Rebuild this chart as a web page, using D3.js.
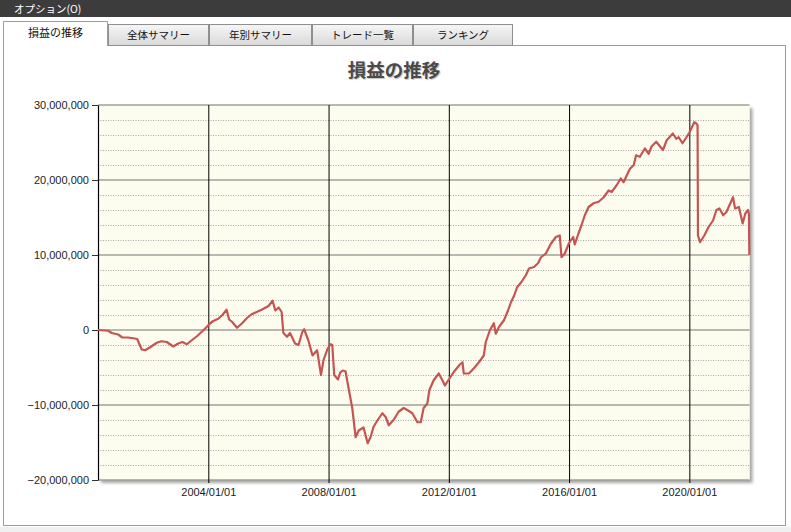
<!DOCTYPE html>
<html>
<head>
<meta charset="utf-8">
<script src="https://cdn.jsdelivr.net/npm/d3@7"></script>
<style>
html,body{margin:0;padding:0;background:#fff;}
svg{display:block;}
</style>
</head>
<body>
<svg id="chart" width="791" height="532"></svg>
<script>
// ---------- data ----------
const menuLabel = "オプション(O)";
const tabLabels = ["損益の推移", "全体サマリー", "年別サマリー", "トレード一覧", "ランキング"];
const chartTitle = "損益の推移";

const dates = [
"2000-05-01","2000-09-01","2000-10-15","2001-01-01","2001-02-20","2001-05-01","2001-07-01","2001-08-20",
"2001-10-15","2001-11-25","2002-01-25","2002-04-15","2002-06-10","2002-08-15","2002-11-01","2003-01-01",
"2003-02-20","2003-04-15","2003-06-10","2003-08-20","2003-11-15","2004-01-25","2004-03-01","2004-05-01",
"2004-06-20","2004-08-10","2004-09-10","2004-10-15","2004-12-15","2005-02-15","2005-04-15","2005-06-10",
"2005-08-10","2005-10-10","2006-01-01","2006-02-20","2006-03-25","2006-05-05","2006-06-10","2006-07-01",
"2006-08-15","2006-09-20","2006-11-20","2007-01-01","2007-02-15","2007-03-10","2007-05-01","2007-06-20",
"2007-08-15","2007-10-01","2007-11-01","2007-12-20","2008-01-25","2008-02-15","2008-03-10","2008-04-25",
"2008-05-20","2008-06-20","2008-07-25","2008-09-01","2008-10-15","2008-11-25","2009-01-01","2009-03-01",
"2009-04-20","2009-05-25","2009-07-01","2009-08-20","2009-10-15","2009-11-25","2010-01-01","2010-03-01",
"2010-05-01","2010-07-01","2010-08-20","2010-10-15","2010-12-15","2011-01-25","2011-03-01","2011-04-15",
"2011-05-10","2011-07-01","2011-09-01","2011-10-15","2011-11-15","2012-01-01","2012-03-01","2012-05-15",
"2012-06-15","2012-07-01","2012-09-01","2012-11-01","2013-01-01","2013-03-01","2013-03-25","2013-05-15",
"2013-07-01","2013-07-25","2013-09-01","2013-11-01","2013-12-20","2014-01-25","2014-03-05","2014-04-10",
"2014-06-01","2014-07-25","2014-09-01","2014-11-01","2014-12-20","2015-01-25","2015-03-25","2015-05-25",
"2015-07-25","2015-09-10","2015-10-01","2015-11-10","2016-01-01","2016-02-20","2016-03-10","2016-04-25",
"2016-06-01","2016-07-10","2016-08-25","2016-10-25","2016-12-25","2017-02-25","2017-04-25","2017-06-01",
"2017-08-01","2017-09-20","2017-10-25","2017-12-01","2018-01-10","2018-02-25","2018-03-25","2018-05-10",
"2018-07-10","2018-08-25","2018-10-01","2018-11-25","2019-01-01","2019-02-15","2019-04-01","2019-06-15",
"2019-07-25","2019-08-25","2019-10-10","2019-11-15","2020-01-01","2020-03-01","2020-03-20","2020-04-10",
"2020-04-15","2020-05-10","2020-07-01","2020-08-20","2020-10-15","2020-11-25","2021-01-01","2021-02-15",
"2021-03-25","2021-05-01","2021-06-15","2021-07-10","2021-08-25","2021-10-10","2021-11-10","2021-12-15",
"2021-12-25","2021-12-30"
];

const profit = [
0,-100000,-400000,-600000,-1000000,-1000000,-1100000,-1200000,
-2600000,-2700000,-2300000,-1700000,-1500000,-1600000,-2200000,-1800000,
-1600000,-1900000,-1400000,-800000,100000,900000,1200000,1500000,
2000000,2700000,1400000,1100000,300000,900000,1600000,2100000,
2400000,2700000,3200000,3900000,2600000,3000000,2400000,-400000,
-900000,-400000,-1800000,-2000000,-300000,100000,-1400000,-3400000,
-2700000,-6000000,-4000000,-2500000,-1900000,-2000000,-6000000,-6600000,
-5700000,-5400000,-5500000,-7800000,-10400000,-14300000,-13400000,-13000000,
-15100000,-14300000,-12900000,-12000000,-11100000,-11600000,-12700000,-12000000,
-10900000,-10400000,-10700000,-11100000,-12300000,-12300000,-10400000,-9800000,
-8000000,-6700000,-5800000,-6700000,-7400000,-6600000,-5600000,-4600000,
-4300000,-5800000,-5800000,-5100000,-4300000,-3400000,-1600000,0,
900000,-500000,400000,1300000,2600000,3700000,4600000,5700000,
6400000,7300000,8200000,8400000,8900000,9700000,10200000,11500000,
12400000,12600000,9700000,10200000,11600000,12400000,11400000,12900000,
14000000,15300000,16400000,16900000,17100000,17700000,18600000,18400000,
19300000,20200000,19700000,20600000,21500000,22000000,23300000,23100000,
24200000,23500000,24500000,25100000,24600000,24000000,25300000,26200000,
25500000,25700000,24900000,25500000,26300000,27700000,27600000,27300000,
12600000,11700000,12600000,13700000,14600000,16000000,16200000,15300000,
15700000,16600000,17700000,16200000,16400000,14200000,15500000,16000000,
15500000,10000000
];

const xDomain = ["2000-05-01", "2022-01-01"];
const xTickDates = ["2004-01-01", "2008-01-01", "2012-01-01", "2016-01-01", "2020-01-01"];
const yMajorTicks = [-20000000, -10000000, 0, 10000000, 20000000, 30000000];
const yMinorTicks = [-18000000,-16000000,-14000000,-12000000,-8000000,-6000000,-4000000,-2000000,
  2000000,4000000,6000000,8000000,12000000,14000000,16000000,18000000,22000000,24000000,26000000,28000000];

// ---------- drawing ----------
const parse = d3.timeParse("%Y-%m-%d");
const svg = d3.select("#chart");
const W = 791, H = 532;
const jp = "'Noto Sans CJK JP', 'Noto Sans', sans-serif";
const num = "'Liberation Sans', Arial, sans-serif";

const defs = svg.append("defs");
const gTab = defs.append("linearGradient").attr("id","tabGrad").attr("x1",0).attr("y1",0).attr("x2",0).attr("y2",1);
gTab.append("stop").attr("offset","0%").attr("stop-color","#f6f6f6");
gTab.append("stop").attr("offset","100%").attr("stop-color","#d9d9d9");
const shadow = defs.append("filter").attr("id","shadow").attr("x","-5%").attr("y","-5%").attr("width","115%").attr("height","115%");
shadow.append("feGaussianBlur").attr("in","SourceAlpha").attr("stdDeviation",1.6).attr("result","b");
shadow.append("feOffset").attr("in","b").attr("dx",3).attr("dy",3).attr("result","o");
shadow.append("feComponentTransfer").attr("in","o").attr("result","o2")
  .append("feFuncA").attr("type","linear").attr("slope",0.35);
const mg = shadow.append("feMerge");
mg.append("feMergeNode").attr("in","o2");
mg.append("feMergeNode").attr("in","SourceGraphic");

// background
svg.append("rect").attr("width",W).attr("height",H).attr("fill","#f0f0f0");
svg.append("rect").attr("x",0).attr("y",17).attr("width",W).attr("height",H-17).attr("fill","#ffffff");

// top menu bar
svg.append("rect").attr("x",0).attr("y",0).attr("width",W).attr("height",17).attr("fill","#3c3c3c");
svg.append("text").attr("x",14).attr("y",13).attr("fill","#ffffff")
  .style("font-family",jp).style("font-size","10.5px").text(menuLabel);

// panel
svg.append("rect").attr("x",3.5).attr("y",45.5).attr("width",782).attr("height",480)
  .attr("fill","#ffffff").attr("stroke","#9c9c9c");
svg.append("rect").attr("x",0).attr("y",527).attr("width",W).attr("height",5).attr("fill","#f0f0f0");

// tabs
const tabEdges = [3, 108, 209, 312, 413, 513];
tabLabels.forEach((t, i) => {
  const x0 = tabEdges[i], x1 = tabEdges[i+1];
  if (i === 0) return;
  svg.append("rect").attr("x",x0+0.5).attr("y",24.5).attr("width",x1-x0-1).attr("height",21)
    .attr("fill","url(#tabGrad)").attr("stroke","#8f8f8f");
  svg.append("text").attr("x",(x0+x1)/2).attr("y",39).attr("text-anchor","middle")
    .attr("fill","#111").style("font-family",jp).style("font-size","10.5px").text(t);
});
{
  const x0 = tabEdges[0], x1 = tabEdges[1];
  svg.append("path").attr("d",`M${x0+0.5},46 L${x0+0.5},21.5 L${x1-0.5},21.5 L${x1-0.5},46`)
    .attr("fill","#ffffff").attr("stroke","#9c9c9c");
  svg.append("rect").attr("x",x0+1).attr("y",44).attr("width",x1-x0-2).attr("height",3).attr("fill","#ffffff");
  svg.append("text").attr("x",(x0+x1)/2).attr("y",37).attr("text-anchor","middle")
    .attr("fill","#111").style("font-family",jp).style("font-size","11px").text(tabLabels[0]);
}

// title
svg.append("text").attr("x",394).attr("y",77).attr("text-anchor","middle")
  .attr("fill","#4a4a4a").style("font-family",jp).style("font-size","18.5px").style("font-weight","bold")
  .style("text-shadow","1px 1px 1px rgba(0,0,0,0.25)").text(chartTitle);

// plot geometry
const L = 98, R = 749.5, T = 105, B = 480;
const x = d3.scaleTime().domain(xDomain.map(parse)).range([L, R]);
const y = d3.scaleLinear().domain([-20000000, 30000000]).range([B, T]);

// plot background
svg.append("rect").attr("x",L).attr("y",T).attr("width",R-L).attr("height",B-T)
  .attr("fill","#fdfdef").attr("filter","url(#shadow)");

// minor gridlines
svg.append("g").selectAll("line").data(yMinorTicks).join("line")
  .attr("x1",L).attr("x2",R).attr("y1",d=>Math.round(y(d))+0.5).attr("y2",d=>Math.round(y(d))+0.5)
  .attr("stroke","#a8a8a8").attr("stroke-dasharray","1,1.5");

// major gridlines
svg.append("g").selectAll("line").data(yMajorTicks).join("line")
  .attr("x1",L).attr("x2",R).attr("y1",d=>Math.round(y(d))).attr("y2",d=>Math.round(y(d)))
  .attr("stroke","#a0a09a").attr("stroke-width",1.5);

// vertical year lines (x axis)
const xAxis = d3.axisBottom(x).tickValues(xTickDates.map(parse))
  .tickFormat(d3.timeFormat("%Y/%m/%d")).tickSize(B - T + 3).tickSizeOuter(0);
const gx = svg.append("g").attr("transform",`translate(0,${T})`).call(xAxis);
gx.select(".domain").remove();
gx.selectAll(".tick line").attr("stroke","#000").attr("stroke-width",1);
gx.selectAll(".tick text").attr("dy",0).attr("y",B - T + 16)
  .attr("fill","#222").style("font-family",num).style("font-size","11px");

// y axis
const yAxis = d3.axisLeft(y).tickValues(yMajorTicks).tickFormat(d3.format(",")).tickSize(6).tickSizeOuter(0);
const gy = svg.append("g").attr("transform",`translate(${L},0)`).call(yAxis);
gy.select(".domain").attr("stroke","#000").attr("stroke-width",1.2);
gy.selectAll(".tick line").attr("stroke","#333");
gy.selectAll(".tick text").attr("x",-9).attr("fill","#222").style("font-family",num).style("font-size","11px");

// line
const pts = dates.map((d,i)=>({d:parse(d), v:profit[i]}));
const line = d3.line().x(p=>x(p.d)).y(p=>y(p.v)).curve(d3.curveLinear);
svg.append("path").datum(pts).attr("d",line).attr("fill","none")
  .attr("stroke","#c65453").attr("stroke-width",2.2).attr("stroke-linejoin","round");
</script>
</body>
</html>
